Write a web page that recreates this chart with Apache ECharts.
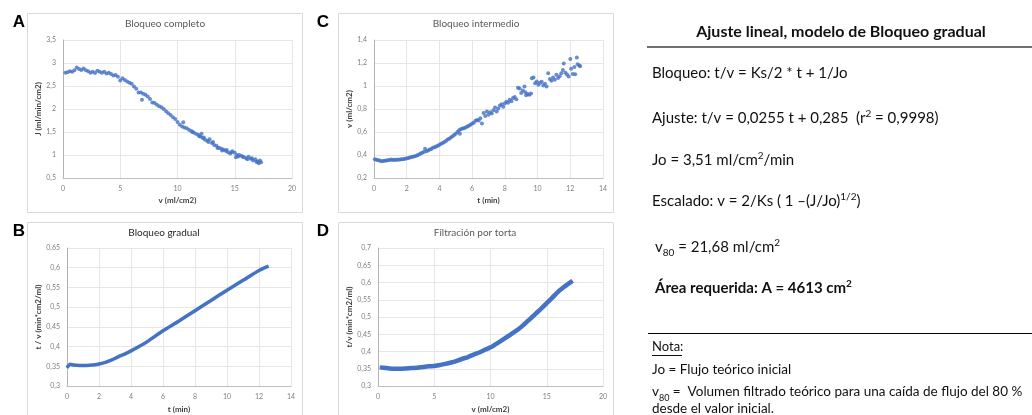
<!DOCTYPE html>
<html>
<head>
<meta charset="utf-8">
<title>Ajuste lineal, modelo de Bloqueo gradual</title>
<script src="https://cdn.jsdelivr.net/npm/echarts@6/dist/echarts.min.js"></script>
<style>
  html, body { margin: 0; padding: 0; background: #fff; }
  #chart { width: 1032px; height: 415px; }
</style>
</head>
<body>
<div id="chart"></div>
<script>
// A: Bloqueo completo, J (ml/min/cm2) frente a v (ml/cm2)
const completoV = [0.2, 0.4, 0.6, 0.8, 1.0, 1.2, 1.4, 1.6, 1.8, 2.0, 2.2, 2.4, 2.6, 2.8, 3.0, 3.2, 3.4, 3.6, 3.8, 4.0,
  4.2, 4.4, 4.6, 4.8, 5.0, 5.2, 5.4, 5.6, 5.8, 6.0, 6.2, 6.4, 6.6, 6.8, 6.9, 7.0, 7.2, 7.4, 7.6, 7.8,
  8.0, 8.2, 8.4, 8.6, 8.8, 9.0, 9.2, 9.4, 9.6, 9.8, 10.0, 10.2, 10.4, 10.5, 10.6, 10.8, 11.0, 11.2, 11.3, 11.4,
  11.6, 11.8, 11.9, 12.0, 12.1, 12.2, 12.3, 12.4, 12.6, 12.7, 12.8, 13.0, 13.1, 13.2, 13.4, 13.5, 13.6, 13.8, 13.9, 14.0,
  14.2, 14.3, 14.4, 14.6, 14.7, 14.8, 15.0, 15.1, 15.2, 15.3, 15.4, 15.6, 15.7, 15.8, 16.0, 16.1, 16.2, 16.4, 16.5, 16.6,
  16.8, 16.9, 17.0, 17.1, 17.2, 17.3];
const completoJ = [2.79, 2.80, 2.82, 2.81, 2.84, 2.90, 2.87, 2.85, 2.88, 2.84, 2.82, 2.79, 2.81, 2.78, 2.83, 2.81, 2.79, 2.81, 2.77, 2.79,
  2.76, 2.73, 2.74, 2.70, 2.62, 2.67, 2.63, 2.60, 2.57, 2.55, 2.49, 2.44, 2.36, 2.36, 2.20, 2.33, 2.31, 2.27, 2.22, 2.14,
  2.13, 2.09, 2.06, 2.04, 2.00, 1.95, 1.91, 1.87, 1.82, 1.78, 1.72, 1.66, 1.62, 1.71, 1.60, 1.58, 1.55, 1.52, 1.50, 1.49,
  1.46, 1.44, 1.41, 1.40, 1.46, 1.37, 1.38, 1.33, 1.31, 1.28, 1.34, 1.26, 1.28, 1.22, 1.20, 1.15, 1.16, 1.14, 1.10, 1.12,
  1.09, 1.11, 1.06, 1.03, 1.06, 1.08, 1.05, 0.95, 1.00, 0.97, 1.00, 0.98, 0.96, 0.95, 0.93, 0.91, 0.96, 0.92, 0.93, 0.88,
  0.91, 0.85, 0.86, 0.82, 0.88, 0.84];

// C: Bloqueo intermedio, v (ml/cm2) frente a t (min)
const intermT = [0.05, 0.15, 0.25, 0.35, 0.45, 0.55, 0.65, 0.75, 0.85, 0.95, 1.05, 1.15, 1.25, 1.35, 1.45, 1.55, 1.65, 1.75, 1.85, 1.95,
  2.05, 2.15, 2.25, 2.35, 2.45, 2.55, 2.65, 2.75, 2.85, 2.95, 3.05, 3.12, 3.2, 3.3, 3.4, 3.5, 3.6, 3.7, 3.8, 3.9,
  4.0, 4.1, 4.2, 4.3, 4.4, 4.5, 4.6, 4.7, 4.8, 4.9, 5.0, 5.1, 5.2, 5.25, 5.3, 5.4, 5.5, 5.6, 5.7, 5.8,
  5.9, 6.0, 6.1, 6.2, 6.3, 6.4, 6.5, 6.6, 6.7, 6.8, 6.9, 7.0, 7.1, 7.2, 7.3, 7.4, 7.5, 7.6, 7.7, 7.8,
  7.9, 8.0, 8.1, 8.2, 8.3, 8.4, 8.5, 8.6, 8.7, 8.8, 8.9, 9.0, 9.1, 9.2, 9.25, 9.3, 9.4, 9.5, 9.6, 9.65,
  9.75, 9.85, 9.95, 10.05, 10.15, 10.25, 10.35, 10.45, 10.55, 10.65, 10.75, 10.85, 10.95, 11.05, 11.15, 11.25, 11.35, 11.45, 11.55, 11.6,
  11.7, 11.8, 11.9, 12.0, 12.05, 12.15, 12.25, 12.3, 12.4, 12.45, 12.55, 12.6];
const intermV = [0.362, 0.358, 0.355, 0.352, 0.345, 0.348, 0.350, 0.352, 0.355, 0.357, 0.360, 0.356, 0.358, 0.357, 0.360, 0.358, 0.362, 0.364, 0.366, 0.370,
  0.372, 0.376, 0.380, 0.384, 0.387, 0.392, 0.397, 0.404, 0.412, 0.420, 0.426, 0.455, 0.432, 0.440, 0.447, 0.452, 0.462, 0.468, 0.474, 0.481,
  0.490, 0.497, 0.505, 0.513, 0.522, 0.535, 0.542, 0.552, 0.562, 0.574, 0.585, 0.600, 0.615, 0.585, 0.625, 0.630, 0.632, 0.640, 0.648, 0.655,
  0.662, 0.675, 0.680, 0.698, 0.705, 0.700, 0.720, 0.675, 0.765, 0.740, 0.778, 0.750, 0.772, 0.760, 0.790, 0.812, 0.778, 0.805, 0.830, 0.842,
  0.820, 0.850, 0.862, 0.855, 0.880, 0.868, 0.895, 0.905, 0.885, 0.985, 0.978, 0.940, 0.960, 0.995, 0.945, 0.920, 0.930, 0.925, 0.935, 1.068,
  1.075, 1.025, 1.040, 1.010, 1.028, 1.038, 1.005, 1.020, 0.995, 1.110, 1.060, 1.045, 1.075, 1.055, 1.098, 1.070, 1.085, 1.110, 1.140, 1.195,
  1.115, 1.100, 1.082, 1.235, 1.150, 1.105, 1.165, 1.102, 1.248, 1.190, 1.178, 1.172];

// B: Bloqueo gradual, t/v (min*cm2/ml) frente a t (min)
const gradualT = [0, 0.1, 0.2, 0.4, 0.8, 1.2, 1.6, 2.0, 2.4, 2.8, 3.2, 3.6, 4.0, 4.5, 5, 6, 7, 8, 9, 10, 11, 12, 12.6];
const gradualTV = [0.346, 0.352, 0.355, 0.353, 0.352, 0.352, 0.353, 0.356, 0.360, 0.366, 0.374, 0.381, 0.389, 0.400, 0.412, 0.440, 0.465, 0.491, 0.517, 0.543, 0.568, 0.593, 0.604];

// D: Filtración por torta, t/v (min*cm2/ml) frente a v (ml/cm2)
const tortaV = [0.15, 0.5, 1.0, 1.5, 2.0, 2.5, 3.0, 3.5, 4.0, 4.5, 5.0, 5.5, 6.0, 6.5, 7.0, 7.5, 8.0, 8.5, 9.0, 9.5,
  10.0, 10.5, 11.0, 11.5, 12.0, 12.5, 13.0, 13.5, 14.0, 14.5, 15.0, 15.5, 16.0, 16.5, 17.0, 17.3];
const tortaTV = [0.354, 0.353, 0.351, 0.350, 0.350, 0.351, 0.352, 0.353, 0.355, 0.357, 0.358, 0.361, 0.364, 0.368, 0.373, 0.379, 0.384, 0.391, 0.397, 0.405,
  0.412, 0.422, 0.432, 0.443, 0.454, 0.465, 0.479, 0.494, 0.509, 0.524, 0.540, 0.556, 0.573, 0.586, 0.598, 0.605];

const BLUE = '#4472C4';
const FONT = 'Lato, "Noto Sans", sans-serif';

function zip(a, b) {
    return a.map((x, i) => [x, b[i]]);
}

// etiquetas con coma decimal, como en Excel
function coma(v) {
    return String(+v.toFixed(2)).replace('.', ',');
}

function xAxis(grid, max, interval, name, gap) {
    return {
        type: 'value', gridIndex: grid, min: 0, max: max, interval: interval,
        name: name, nameLocation: 'middle', nameGap: gap,
        nameTextStyle: { fontFamily: FONT, fontSize: 8, fontWeight: 'bold', color: '#404040' },
        axisLine: { show: true, lineStyle: { color: '#bfbfbf' } },
        axisTick: { show: false },
        axisLabel: { fontFamily: FONT, fontSize: 7, color: '#7f7f7f', margin: 7, formatter: coma },
        splitLine: { lineStyle: { color: '#e6e6e6' } }
    };
}

function yAxis(grid, min, max, interval, name, gap) {
    return {
        type: 'value', gridIndex: grid, min: min, max: max, interval: interval,
        name: name, nameLocation: 'middle', nameGap: gap,
        nameTextStyle: { fontFamily: FONT, fontSize: 8, fontWeight: 'bold', color: '#404040' },
        axisLine: { show: true, lineStyle: { color: '#b3b3b3' } },
        axisTick: { show: false },
        axisLabel: { fontFamily: FONT, fontSize: 7, color: '#7f7f7f', margin: 7, formatter: coma },
        splitLine: { lineStyle: { color: '#e6e6e6' } }
    };
}

function panel(x, y, w, h) {
    return { type: 'rect', shape: { x: x, y: y, width: w, height: h }, style: { fill: 'none', stroke: '#d9d9d9', lineWidth: 1 } };
}

function letra(t, x, y) {
    return { type: 'text', x: x, y: y, style: { text: t, font: 'bold 17px "Liberation Sans", Arial', fill: '#000', textAlign: 'center', textVerticalAlign: 'middle' } };
}

function titulo(t, x, y, color) {
    return { type: 'text', x: x, y: y, style: { text: t, fontFamily: FONT, fontSize: 10, fill: color, textAlign: 'center', textVerticalAlign: 'middle' } };
}

const rich = {
    sup: { fontFamily: FONT, fontSize: 10, lineHeight: 10, verticalAlign: 'top', padding: [2, 0, 0, 0], color: '#111' },
    supb: { fontFamily: FONT, fontSize: 10, fontWeight: 'bold', lineHeight: 10, verticalAlign: 'top', padding: [2, 0, 0, 0], color: '#111' },
    sub: { fontFamily: FONT, fontSize: 10, lineHeight: 10, verticalAlign: 'bottom', color: '#111' },
    subs: { fontFamily: FONT, fontSize: 9, lineHeight: 9, verticalAlign: 'bottom', color: '#111' }
};

function linea(t, x, y, size, bold) {
    return {
        type: 'text', x: x, y: y,
        style: {
            text: t, fontFamily: FONT, fontSize: size, fontWeight: bold ? 'bold' : 'normal', fill: '#111',
            lineHeight: size + 7, textVerticalAlign: 'middle', rich: rich
        }
    };
}

function raya(x1, x2, y, w, color) {
    return { type: 'line', shape: { x1: x1, y1: y, x2: x2, y2: y }, style: { stroke: color, lineWidth: w } };
}

const chart = echarts.init(document.getElementById('chart'), null, { renderer: 'canvas' });

chart.setOption({
    backgroundColor: '#fff',
    animation: false,
    grid: [
        { left: 63, top: 40, width: 229, height: 138 },   // A
        { left: 374, top: 40, width: 229, height: 138 },  // C
        { left: 67, top: 248, width: 224, height: 138 },  // B
        { left: 378, top: 248, width: 225, height: 138 }  // D
    ],
    xAxis: [
        xAxis(0, 20, 5, 'v (ml/cm2)', 18),
        xAxis(1, 14, 2, 't (min)', 18),
        xAxis(2, 14, 2, 't (min)', 19),
        xAxis(3, 20, 5, 'v (ml/cm2)', 19)
    ],
    yAxis: [
        yAxis(0, 0.5, 3.5, 0.5, 'J (ml/min/cm2)', 20),
        yAxis(1, 0.2, 1.4, 0.2, 'v (ml/cm2)', 18),
        yAxis(2, 0.3, 0.65, 0.05, 't / v (min*cm2/ml)', 23),
        yAxis(3, 0.3, 0.7, 0.05, 't/v (min*cm2/ml)', 22)
    ],
    series: [
        { type: 'scatter', xAxisIndex: 0, yAxisIndex: 0, data: zip(completoV, completoJ), symbolSize: 4, itemStyle: { color: BLUE } },
        { type: 'scatter', xAxisIndex: 1, yAxisIndex: 1, data: zip(intermT, intermV), symbolSize: 4, itemStyle: { color: BLUE } },
        { type: 'line', xAxisIndex: 2, yAxisIndex: 2, data: zip(gradualT, gradualTV), showSymbol: false, smooth: 0.3, lineStyle: { color: BLUE, width: 3.5 } },
        { type: 'line', xAxisIndex: 3, yAxisIndex: 3, data: zip(tortaV, tortaTV), showSymbol: false, smooth: 0.3, lineStyle: { color: BLUE, width: 4.5 } }
    ],
    graphic: [
        panel(27.5, 13.5, 275, 199),
        panel(338.5, 13.5, 275, 199),
        panel(27.5, 222.5, 275, 200),
        panel(338.5, 222.5, 275, 200),
        letra('A', 19, 22),
        letra('C', 323, 22),
        letra('B', 19, 231),
        letra('D', 323, 231),
        titulo('Bloqueo completo', 165, 24, '#595959'),
        titulo('Bloqueo intermedio', 476, 24, '#595959'),
        titulo('Bloqueo gradual', 164, 233, '#262626'),
        titulo('Filtración por torta', 475, 233, '#595959'),

        // panel de texto
        { type: 'text', x: 841, y: 32, style: { text: 'Ajuste lineal, modelo de Bloqueo gradual', fontFamily: FONT, fontSize: 16, fontWeight: 'bold', fill: '#111', textAlign: 'center', textVerticalAlign: 'middle' } },
        raya(647, 1032, 47, 1.5, '#404040'),
        linea('Bloqueo: t/v = Ks/2 * t + 1/Jo', 652, 73, 15),
        linea('Ajuste: t/v = 0,0255 t + 0,285  (r{sup|2} = 0,9998)', 652, 118, 15),
        linea('Jo = 3,51 ml/cm{sup|2}/min', 652, 160, 15),
        linea('Escalado: v = 2/Ks ( 1 –(J/Jo){sup|1/2})', 652, 201, 15),
        linea('v{sub|80} = 21,68 ml/cm{sup|2}', 655, 247, 15),
        linea('Área requerida: A = 4613 cm{supb|2}', 655, 288, 15, true),
        raya(648, 1032, 333.5, 1, '#000'),
        linea('Nota:', 652, 347, 13),
        raya(652, 682, 355.5, 1, '#111'),
        linea('Jo = Flujo teórico inicial', 652, 370, 13.5),
        linea('v{subs|80} =  Volumen filtrado teórico para una caída de flujo del 80 %', 652, 392, 13.5),
        linea('desde el valor inicial.', 652, 409, 13.5)
    ]
});
</script>
</body>
</html>
